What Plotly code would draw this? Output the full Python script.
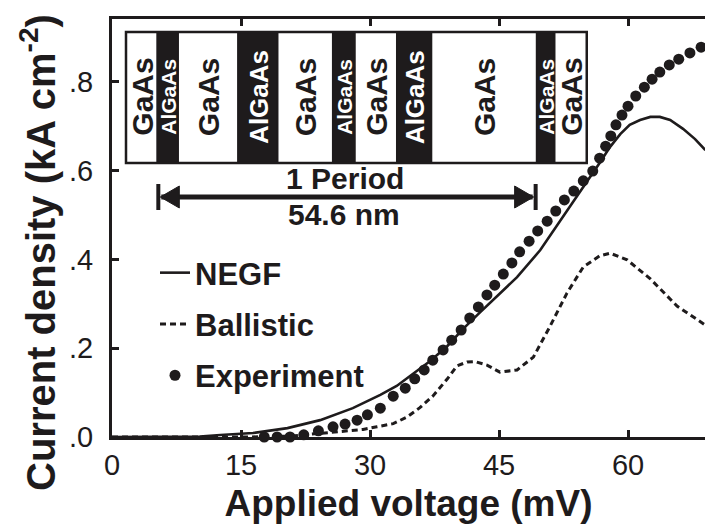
import plotly.graph_objects as go

# ---------------- data ----------------
exp_v = [17.7, 19.2, 20.7, 22.3, 24.0, 25.7, 27.1, 28.5, 29.7, 31.2, 32.7, 34.1, 35.2, 36.3,
         37.3, 38.5, 39.5, 40.6, 41.6, 42.6, 43.6, 44.5, 45.5, 46.5, 47.4, 48.5, 49.5, 50.6,
         51.6, 52.6, 53.7, 54.8, 55.9, 56.7, 57.4, 58.0, 58.6, 59.3, 60.0, 60.9, 61.9, 62.8,
         63.7, 64.8, 65.9, 67.2, 68.5]
exp_j = [0.0, 0.0, 0.0, 0.005, 0.014, 0.023, 0.029, 0.038, 0.050, 0.065, 0.092, 0.110,
         0.131, 0.151, 0.173, 0.196, 0.218, 0.241, 0.268, 0.293, 0.320, 0.342, 0.367, 0.392,
         0.417, 0.441, 0.464, 0.486, 0.509, 0.534, 0.554, 0.577, 0.599, 0.628, 0.655, 0.678,
         0.703, 0.725, 0.745, 0.768, 0.788, 0.806, 0.822, 0.838, 0.851, 0.865, 0.878]

negf_v = [0, 7.9, 10.2, 12.6, 16.4, 20.4, 24.2, 28.0, 31.2, 33.1, 35.0, 37.0, 39.0, 40.8,
          42.7, 45.1, 47.1, 49.8, 52.1, 54.4, 56.7, 57.9, 59.1, 60.2, 61.4, 62.6, 63.7, 64.9,
          66.4, 67.8, 69.0]
negf_j = [0, 0.000, 0.001, 0.0045, 0.009, 0.020, 0.038, 0.065, 0.095, 0.115, 0.142, 0.171,
          0.205, 0.243, 0.279, 0.324, 0.360, 0.421, 0.486, 0.552, 0.617, 0.653, 0.682, 0.703,
          0.714, 0.721, 0.721, 0.714, 0.694, 0.671, 0.646]

ball_v = [0, 16.0, 20.7, 25.0, 27.1, 29.2, 30.8, 32.7, 34.3, 35.8, 37.3, 39.0, 40.1, 41.3,
          42.2, 43.6, 45.1, 47.1, 49.0, 50.9, 52.9, 54.8, 56.7, 57.9, 59.9, 62.6, 65.7, 69.0]
ball_j = [0, 0.000, 0.002, 0.009, 0.012, 0.017, 0.023, 0.030, 0.045, 0.066, 0.092, 0.131,
          0.160, 0.169, 0.170, 0.162, 0.146, 0.151, 0.180, 0.248, 0.324, 0.383, 0.408, 0.414,
          0.399, 0.356, 0.295, 0.252]

x_tickvals = [0, 15, 30, 45, 60]
x_ticktext = ["0", "15", "30", "45", "60"]
y_tickvals = [0.0, 0.2, 0.4, 0.6, 0.8]
y_ticktext = [".0", ".2", ".4", ".6", ".8"]

series_names = ["NEGF", "Ballistic", "Experiment"]
x_title = "Applied voltage (mV)"
y_title = "Current density (kA cm<sup>-2</sup>)"

# inset: layer sequence (nm)
layer_materials = ["GaAs", "AlGaAs", "GaAs", "AlGaAs", "GaAs", "AlGaAs", "GaAs", "AlGaAs",
                   "GaAs", "AlGaAs", "GaAs"]
layer_thickness = [4.5, 3.0, 8.6, 5.7, 7.9, 3.2, 6.0, 5.0, 15.1, 2.6, 4.6]
period_first, period_last = 1, 8  # layers covered by one period
period_label = "1 Period"
period_length_label = "54.6 nm"

# ---------------- layout geometry ----------------
W, H = 705, 524
ML, MR, MT, MB = 112, 0, 19, 87
PW, PH = W - ML - MR, H - MT - MB
FONT = "Liberation Sans, Arial, sans-serif"
INK = "#1e1b1c"


def px_x(p):
    return (p - ML) / PW


def px_y(p):
    return (H - MB - p) / PH


fig = go.Figure()
fig.add_trace(go.Scatter(x=negf_v, y=negf_j, mode="lines", name=series_names[0],
                         line=dict(color=INK, width=2.6), legendgroup="a"))
fig.add_trace(go.Scatter(x=ball_v, y=ball_j, mode="lines", name=series_names[1],
                         line=dict(color=INK, width=3, dash="6px,4px"), legendgroup="b"))
fig.add_trace(go.Scatter(x=exp_v, y=exp_j, mode="markers", name=series_names[2],
                         marker=dict(color=INK, size=11), legendgroup="c",
                         cliponaxis=False))

shapes = []
annotations = []

# inset layers
x0_px, nm_px = 126, 6.96
top_px, bot_px = 32, 163
edges = [x0_px]
for t in layer_thickness:
    edges.append(edges[-1] + t * nm_px)
for i, (mat, t) in enumerate(zip(layer_materials, layer_thickness)):
    barrier = mat == "AlGaAs"
    shapes.append(dict(type="rect", xref="paper", yref="paper",
                       x0=px_x(edges[i]), x1=px_x(edges[i + 1]),
                       y0=px_y(bot_px), y1=px_y(top_px),
                       fillcolor=INK if barrier else "white",
                       line=dict(color=INK, width=1.5), layer="above"))
    if barrier:
        size, color = (26 if t >= 4 else 21), "white"
    else:
        size, color = 30, INK
    annotations.append(dict(xref="paper", yref="paper", xanchor="center", yanchor="middle",
                            x=px_x((edges[i] + edges[i + 1]) / 2 + 1), y=px_y(97),
                            text=mat, textangle=-90, showarrow=False,
                            font=dict(family=FONT, size=size, color=color, weight="bold")))
shapes.append(dict(type="rect", xref="paper", yref="paper",
                   x0=px_x(edges[0]), x1=px_x(edges[-1]), y0=px_y(bot_px), y1=px_y(top_px),
                   line=dict(color=INK, width=2.5), layer="above"))

# period arrow
a_l, a_r, a_y = edges[period_first], edges[period_last + 1], 197
shapes += [
    dict(type="line", xref="paper", yref="paper", x0=px_x(a_l + 4), x1=px_x(a_r - 4),
         y0=px_y(a_y), y1=px_y(a_y), line=dict(color=INK, width=5)),
    dict(type="line", xref="paper", yref="paper", x0=px_x(a_l + 1), x1=px_x(a_l + 1),
         y0=px_y(a_y - 13), y1=px_y(a_y + 13), line=dict(color=INK, width=4)),
    dict(type="line", xref="paper", yref="paper", x0=px_x(a_r - 1), x1=px_x(a_r - 1),
         y0=px_y(a_y - 13), y1=px_y(a_y + 13), line=dict(color=INK, width=4)),
    dict(type="path", xref="paper", yref="paper", fillcolor=INK, line=dict(color=INK, width=1),
         path=f"M {px_x(a_l + 3)} {px_y(a_y)} L {px_x(a_l + 22)} {px_y(a_y - 11)} "
              f"L {px_x(a_l + 22)} {px_y(a_y + 11)} Z"),
    dict(type="path", xref="paper", yref="paper", fillcolor=INK, line=dict(color=INK, width=1),
         path=f"M {px_x(a_r - 3)} {px_y(a_y)} L {px_x(a_r - 22)} {px_y(a_y - 11)} "
              f"L {px_x(a_r - 22)} {px_y(a_y + 11)} Z"),
]
annotations += [
    dict(xref="paper", yref="paper", xanchor="center", yanchor="middle",
         x=px_x(345), y=px_y(178), text=period_label,
         showarrow=False, font=dict(family=FONT, size=30, color=INK, weight="bold")),
    dict(xref="paper", yref="paper", xanchor="center", yanchor="middle",
         x=px_x(344), y=px_y(214), text=period_length_label,
         showarrow=False, font=dict(family=FONT, size=30, color=INK, weight="bold")),
    # y-axis title (placed explicitly: it sits lower than the plot centre in the reference)
    dict(xref="paper", yref="paper", xanchor="center", yanchor="middle",
         x=px_x(38), y=px_y(253), text=y_title, textangle=-90, showarrow=False,
         font=dict(family=FONT, size=40, color=INK, weight="bold")),
]

axis_common = dict(showline=True, linewidth=3, linecolor=INK, ticks="inside", ticklen=7,
                   tickwidth=2.5, tickcolor=INK, showgrid=False, zeroline=False,
                   tickfont=dict(family=FONT, size=29, color=INK))

fig.update_layout(
    width=W, height=H, margin=dict(l=ML, r=MR, t=MT, b=MB, pad=0),
    paper_bgcolor="white", plot_bgcolor="white",
    font=dict(family=FONT, color=INK),
    xaxis=dict(range=[0, PW / 8.6], tickvals=x_tickvals, ticktext=x_ticktext,
               mirror="allticks",
               title=dict(text=x_title, standoff=13,
                          font=dict(family=FONT, size=37, color=INK, weight="bold")),
               **axis_common),
    yaxis=dict(range=[0, PH / 444.0], tickvals=y_tickvals, ticktext=y_ticktext,
               ticklabelstandoff=10, **axis_common),
    legend=dict(x=px_x(155), y=px_y(246), xanchor="left", yanchor="top",
                bgcolor="rgba(0,0,0,0)", tracegroupgap=8,
                font=dict(family=FONT, size=31, color=INK, weight="bold")),
    showlegend=True,
    shapes=shapes, annotations=annotations,
)

fig.write_html("out.html", config={"displayModeBar": False},
               post_script="document.body.style.margin='0';document.body.style.overflow='hidden';")
